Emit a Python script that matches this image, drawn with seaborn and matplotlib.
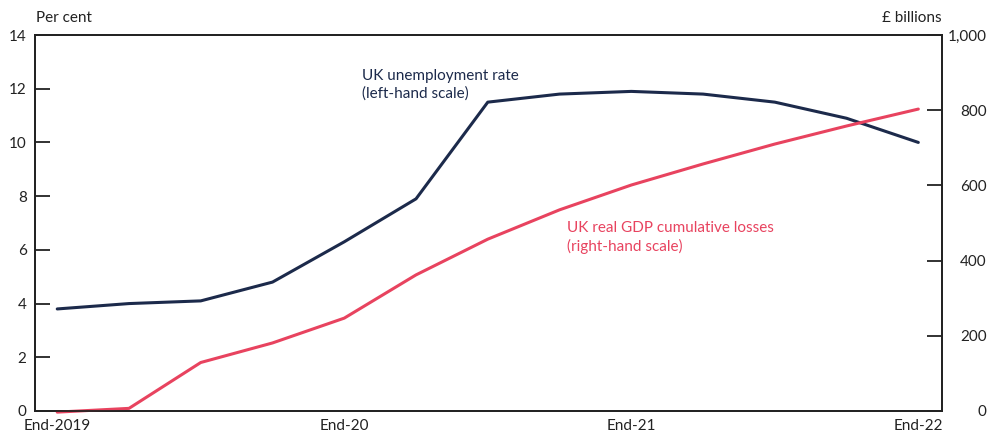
import matplotlib
matplotlib.use("Agg")
import matplotlib.pyplot as plt
import seaborn as sns
import pandas as pd

quarters = list(range(13))
tick_pos = [0, 4, 8, 12]
tick_labels = ["End-2019", "End-20", "End-21", "End-22"]
unemployment = [3.8, 4.0, 4.1, 4.8, 6.3, 7.9, 11.5, 11.8, 11.9, 11.8, 11.5, 10.9, 10.0]
gdp_losses = [-3, 7, 129, 181, 247, 362, 457, 535, 601, 657, 710, 758, 803]

df = pd.DataFrame({"q": quarters, "unemp": unemployment, "gdp": gdp_losses})

sns.set_style("white")
plt.rcParams["font.family"] = ["Lato", "DejaVu Sans"]

navy = "#1c2a4b"
pink = "#e8435f"
ink = "#222222"

fig = plt.figure(figsize=(9.89, 4.33), dpi=100)
ax = fig.add_axes([35/989, 22/433, (942-35)/989, (411-35)/433])
ax2 = ax.twinx()

sns.lineplot(data=df, x="q", y="unemp", ax=ax, color=navy, linewidth=2.2, zorder=3)
sns.lineplot(data=df, x="q", y="gdp", ax=ax2, color=pink, linewidth=2.2, zorder=2, clip_on=False)

ax.set_xlim(-0.31, 12.33)
ax.set_ylim(0, 14)
ax2.set_ylim(0, 1000)
ax.set_yticks(range(0, 15, 2))
ax2.set_yticks(range(0, 1001, 200))
ax2.set_yticklabels(["0", "200", "400", "600", "800", "1,000"])
ax.set_xticks(tick_pos)
ax.set_xticklabels(tick_labels)
ax.set_xlabel("")
ax.set_ylabel("")
ax2.set_ylabel("")

for a in (ax, ax2):
    for s in a.spines.values():
        s.set_color(ink)
        s.set_linewidth(1.3)
ax.tick_params(axis="y", direction="in", length=11, width=1.3, color=ink,
               labelsize=11, pad=6, labelcolor=ink)
ax2.tick_params(axis="y", direction="in", length=11, width=1.3, color=ink,
                labelsize=11, pad=32, labelcolor=ink)
ax.tick_params(axis="x", direction="in", length=10, width=1.3, color=ink,
               labelsize=11, pad=6, labelcolor=ink)
for lbl in ax2.get_yticklabels():
    lbl.set_horizontalalignment("right")

fig.text(36/989, 1 - 18/433, "Per cent", fontsize=11, color=ink, ha="left", va="center")
fig.text(942/989, 1 - 18/433, "£ billions", fontsize=11, color=ink, ha="right", va="center")

ax.text(4.25, 12.15, "UK unemployment rate\n(left-hand scale)", color=navy, fontsize=11,
        ha="left", va="center", linespacing=1.35)
ax2.text(7.1, 462, "UK real GDP cumulative losses\n(right-hand scale)", color=pink, fontsize=11,
         ha="left", va="center", linespacing=1.35)

fig.savefig("out.png", dpi=100)
